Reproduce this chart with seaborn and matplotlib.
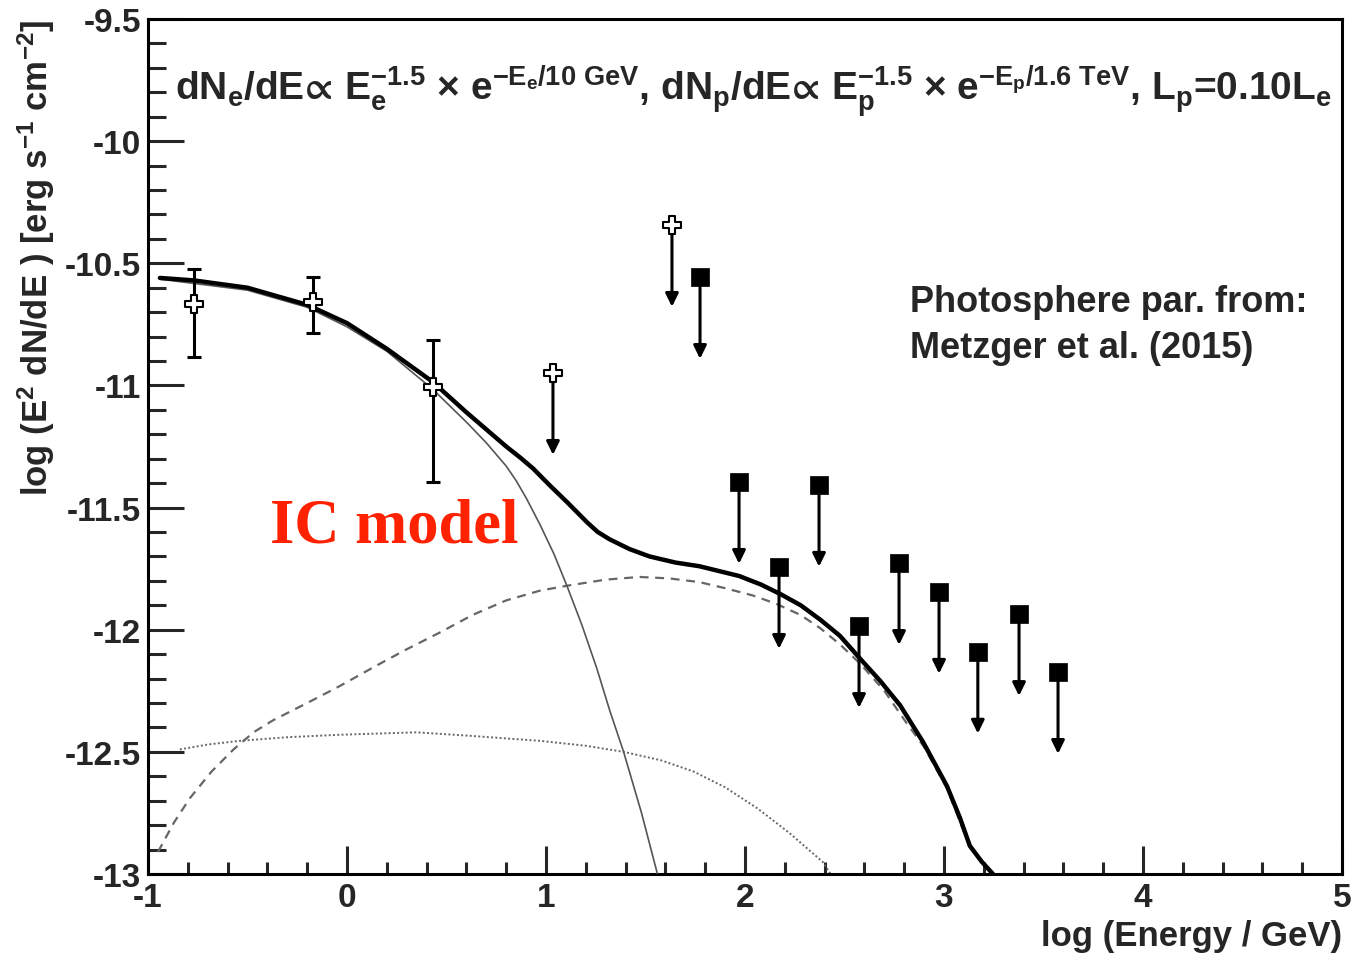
import matplotlib
matplotlib.use("Agg")
import matplotlib.pyplot as plt
import seaborn as sns
from matplotlib.ticker import MultipleLocator

# ---------------- data ----------------
# total model (thick black)
total_x = [-0.94, -0.77, -0.5, -0.2, 0.0, 0.2, 0.43, 0.6, 0.7, 0.8, 0.87, 0.935, 1.02, 1.105,
           1.206, 1.26, 1.32, 1.42, 1.52, 1.65, 1.77, 1.87, 1.97, 2.08, 2.18, 2.28, 2.38,
           2.477, 2.58, 2.68, 2.78, 2.895, 3.015, 3.08, 3.13, 3.19, 3.246]
total_y = [-10.56, -10.57, -10.60, -10.67, -10.745, -10.85, -10.985, -11.11, -11.18, -11.25,
           -11.295, -11.34, -11.41, -11.477, -11.56, -11.60, -11.63, -11.67, -11.70, -11.725,
           -11.74, -11.76, -11.78, -11.815, -11.855, -11.90, -11.96, -12.025, -12.12, -12.21,
           -12.31, -12.46, -12.64, -12.77, -12.885, -12.95, -13.0]
# electron IC component (thin solid)
ic_x = [-0.94, -0.5, -0.2, 0.0, 0.2, 0.43, 0.6, 0.7, 0.8, 0.85, 0.9, 0.97, 1.04, 1.105, 1.18,
        1.256, 1.32, 1.39, 1.48, 1.56]
ic_y = [-10.565, -10.61, -10.68, -10.76, -10.86, -11.015, -11.15, -11.235, -11.33, -11.39,
        -11.46, -11.57, -11.69, -11.82, -11.98, -12.16, -12.33, -12.50, -12.75, -13.0]
# dashed component
dash_x = [-0.95, -0.87, -0.79, -0.68, -0.57, -0.47, -0.37, -0.2, -0.035, 0.13, 0.30, 0.47,
          0.63, 0.8, 0.97, 1.105, 1.3, 1.47, 1.62, 1.77, 1.9, 2.04, 2.16, 2.28, 2.38, 2.477,
          2.58, 2.7, 2.81, 2.9, 3.015, 3.13, 3.246]
dash_y = [-12.91, -12.79, -12.69, -12.58, -12.49, -12.42, -12.37, -12.30, -12.23, -12.155,
          -12.08, -12.01, -11.94, -11.88, -11.84, -11.82, -11.795, -11.784, -11.79, -11.805,
          -11.83, -11.86, -11.895, -11.94, -11.995, -12.06, -12.14, -12.25, -12.38, -12.48,
          -12.65, -12.89, -13.0]
# dotted component
dot_x = [-0.84, -0.7, -0.54, -0.3, -0.035, 0.35, 0.63, 0.97, 1.2, 1.39, 1.58, 1.74, 1.9,
         2.06, 2.22, 2.39, 2.43]
dot_y = [-12.49, -12.47, -12.455, -12.44, -12.43, -12.42, -12.435, -12.455, -12.475, -12.50,
         -12.535, -12.58, -12.645, -12.73, -12.83, -12.95, -13.0]

# open-cross data points with error bars
pts_x = [-0.77, -0.17, 0.43]
pts_y = [-10.667, -10.658, -11.006]
pts_hi = [-10.523, -10.556, -10.814]
pts_lo = [-10.883, -10.785, -11.395]

# open-cross upper limits
ulc_x = [1.035, 1.633]
ulc_y = [-10.949, -10.343]

# filled-square upper limits
uls_x = [1.774, 1.97, 2.171, 2.372, 2.573, 2.774, 2.975, 3.17, 3.377, 3.573]
uls_y = [-10.556, -11.395, -11.743, -11.407, -11.985, -11.727, -11.845, -12.09, -11.936, -12.173]

arrow_len = 0.335

xticks = [-1, 0, 1, 2, 3, 4, 5]
yticks = [-9.5, -10, -10.5, -11, -11.5, -12, -12.5, -13]
ytick_labels = ["-9.5", "-10", "-10.5", "-11", "-11.5", "-12", "-12.5", "-13"]

# ---------------- style ----------------
sns.set_theme(style="white")
plt.rcParams["font.family"] = ["Liberation Sans", "DejaVu Sans"]
plt.rcParams["font.weight"] = "bold"
plt.rcParams["mathtext.fontset"] = "custom"
plt.rcParams["mathtext.rm"] = "Liberation Sans:bold"
plt.rcParams["mathtext.it"] = "Liberation Sans:bold"
plt.rcParams["mathtext.bf"] = "Liberation Sans:bold"
plt.rcParams["mathtext.sf"] = "Liberation Sans:bold"
plt.rcParams["mathtext.fallback"] = "stixsans"

W, H = 1371, 954
fig = plt.figure(figsize=(W / 100, H / 100), dpi=100)
ax = fig.add_axes([148 / W, 79 / H, 1194 / W, 855 / H])

# curves
sns.lineplot(x=dot_x, y=dot_y, ax=ax, color="#666666", lw=1.4, linestyle=(0, (1, 1.2)),
             sort=False, estimator=None, zorder=2)
sns.lineplot(x=dash_x, y=dash_y, ax=ax, color="#666666", lw=1.6, linestyle=(0, (4, 3)),
             sort=False, estimator=None, zorder=2)
sns.lineplot(x=ic_x, y=ic_y, ax=ax, color="#555555", lw=1.2,
             sort=False, estimator=None, zorder=3)
sns.lineplot(x=total_x, y=total_y, ax=ax, color="black", lw=3.2,
             sort=False, estimator=None, zorder=4)

# error bars
yerr_lo = [c - l for c, l in zip(pts_y, pts_lo)]
yerr_hi = [h - c for c, h in zip(pts_y, pts_hi)]
ax.errorbar(pts_x, pts_y, yerr=[yerr_lo, yerr_hi], fmt="none", ecolor="black",
            elinewidth=2.2, capsize=5, capthick=2.2, zorder=5)

# upper-limit arrows
for xs, ys in ((ulc_x, ulc_y), (uls_x, uls_y)):
    for x, y in zip(xs, ys):
        ax.annotate("", xy=(x, y - arrow_len), xytext=(x, y),
                    arrowprops=dict(arrowstyle="-|>,head_length=0.65,head_width=0.32",
                                    color="black", lw=2.2, shrinkA=0, shrinkB=0),
                    zorder=5)

# markers
sns.scatterplot(x=pts_x + ulc_x, y=pts_y + ulc_y, ax=ax, marker="P", s=160,
                facecolor="white", edgecolor="black", linewidth=1.5, zorder=6)
sns.scatterplot(x=uls_x, y=uls_y, ax=ax, marker="s", s=170,
                color="black", edgecolor="black", linewidth=0.5, zorder=6)

# axes
ax.set_xlim(-1, 5)
ax.set_ylim(-13, -9.5)
ax.set_xticks(xticks)
ax.set_yticks(yticks)
ax.set_xticklabels([str(t) for t in xticks])
ax.set_yticklabels(ytick_labels)
ax.xaxis.set_minor_locator(MultipleLocator(0.2))
ax.yaxis.set_minor_locator(MultipleLocator(0.1))
ax.tick_params(axis="x", which="major", direction="in", length=20, width=2.2,
               labelsize=24, pad=6, bottom=True, top=False)
ax.tick_params(axis="x", which="minor", direction="in", length=9, width=2.2,
               bottom=True, top=False)
ax.tick_params(axis="y", which="major", direction="in", length=26, width=2.2,
               labelsize=24, pad=5, left=True, right=False)
ax.tick_params(axis="y", which="minor", direction="in", length=13, width=2.2,
               left=True, right=False)
for lab in ax.get_xticklabels() + ax.get_yticklabels():
    lab.set_fontweight("bold")
for sp in ax.spines.values():
    sp.set_linewidth(2.2)
    sp.set_color("black")

ax.set_xlabel("log (Energy / GeV)", fontsize=25, fontweight="bold", loc="right", labelpad=4)
ax.set_ylabel("log (E$^2$ dN/dE ) [erg s$^{-1}$ cm$^{-2}$]", fontsize=25,
              fontweight="bold", loc="top", labelpad=6)

# annotations
ax.text(-0.864, -9.83,
        "dN$_e$/dE$\u221d$ E$_e^{-1.5}$ $\\times$ e$^{-E_e/10\\ GeV}$, "
        "dN$_p$/dE$\u221d$ E$_p^{-1.5}$ $\\times$ e$^{-E_p/1.6\\ TeV}$, L$_p$=0.10L$_e$",
        fontsize=28, fontweight="bold", va="baseline", ha="left", zorder=7)
ax.text(2.83, -10.695, "Photosphere par. from:", fontsize=26, fontweight="bold",
        va="baseline", ha="left")
ax.text(2.83, -10.885, "Metzger et al. (2015)", fontsize=26, fontweight="bold",
        va="baseline", ha="left")
ax.text(-0.387, -11.64, "IC model", fontsize=45, fontweight="bold", color="#ff2200",
        family=["Liberation Serif", "DejaVu Serif"], va="baseline", ha="left")

fig.savefig("out.png", dpi=100)
